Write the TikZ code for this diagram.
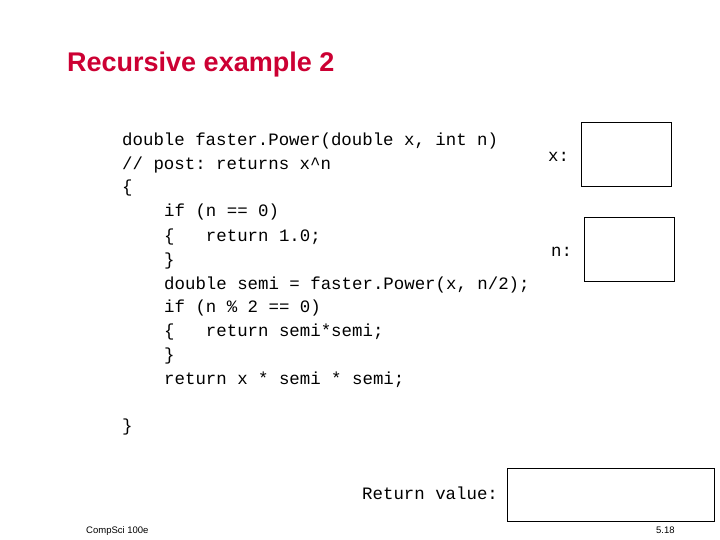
\documentclass[tikz,border=0pt]{standalone}
\usepackage{fontspec}
\setmainfont{Liberation Sans}
\setsansfont{Liberation Sans}
\setmonofont{Liberation Mono}
\definecolor{titlered}{RGB}{204,0,51}
\begin{document}
\begin{tikzpicture}[x=1pt,y=-1pt,
  code/.style={anchor=base west,inner sep=0,font=\fontsize{17.4}{20}\ttfamily},
  box/.style={draw,line width=1.3pt},
  foot/.style={anchor=base west,inner sep=0,font=\fontsize{9.5}{11}\sffamily}]
\useasboundingbox (0,0) rectangle (720,540);
\node[anchor=base west,inner sep=0,text=titlered,font=\fontsize{27}{30}\sffamily\bfseries] (title) at (67,72) {Recursive example 2};
\node[code] (l1) at (122,146) {double faster.Power(double x, int n)};
\node[code] (l2) at (122,170) {// post: returns x\^{}n};
\node[code] (l3) at (122,193) {\{};
\node[code] (l4) at (164,217) {if (n == 0)};
\node[code] (l5) at (164,241) {\{~~~return 1.0;};
\node[code] (l6) at (164,265) {\}};
\node[code] (l7) at (164,289) {double semi = faster.Power(x, n/2);};
\node[code] (l8) at (164,312) {if (n \% 2 == 0)};
\node[code] (l9) at (164,336) {\{~~~return semi*semi;};
\node[code] (l10) at (164,360) {\}};
\node[code] (l11) at (164,384) {return x * semi * semi;};
\node[code] (l12) at (122,431) {\}};
\node[code] (xl) at (548,162) {x:};
\node[code] (nl) at (551,256) {n:};
\node[code] (rl) at (362,499) {Return value:};
\node[box,minimum width=90,minimum height=64,anchor=north west,inner sep=0] (xb) at (581,122) {};
\node[box,minimum width=90,minimum height=64,anchor=north west,inner sep=0] (nb) at (584,217) {};
\node[box,minimum width=207,minimum height=53,anchor=north west,inner sep=0] (rb) at (507,468) {};
\node[foot] (f1) at (86,533) {CompSci 100e};
\node[foot] (f2) at (656,533) {5.18};
\end{tikzpicture}
\end{document}
